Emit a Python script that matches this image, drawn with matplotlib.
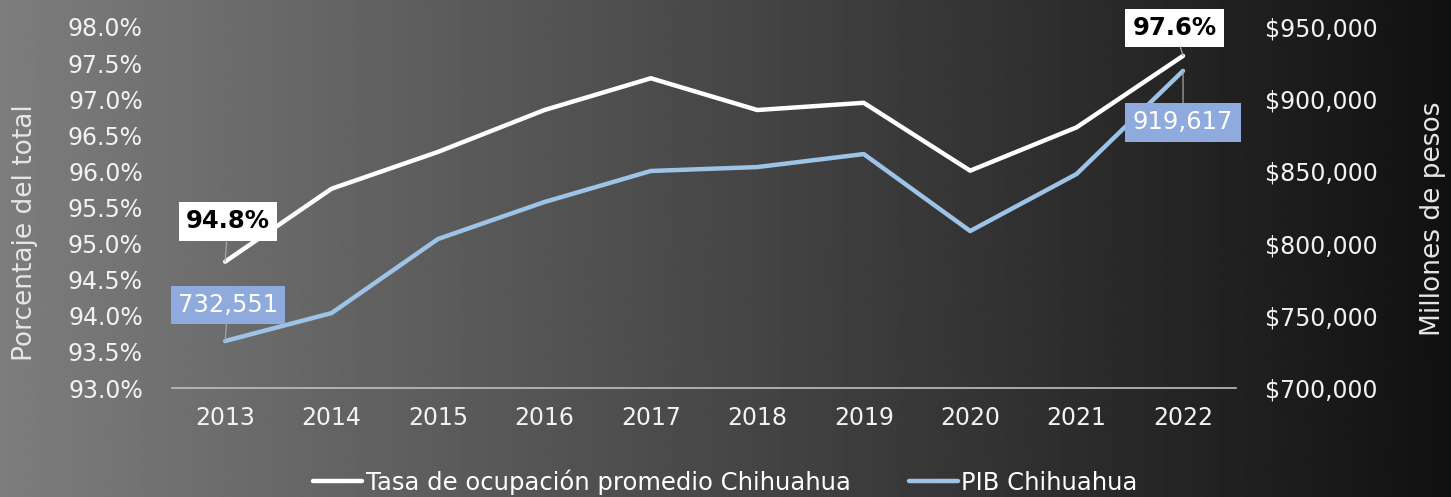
import numpy as np
import matplotlib.pyplot as plt
from matplotlib.ticker import FuncFormatter

years = ['2013', '2014', '2015', '2016', '2017', '2018', '2019', '2020', '2021', '2022']
tasa = [94.75, 95.76, 96.27, 96.85, 97.29, 96.85, 96.95, 96.01, 96.61, 97.60]
pib = [732551, 751900, 803200, 828800, 850300, 853000, 862000, 808700, 848200, 919617]
tasa_label = '94.8%'
tasa_label_end = '97.6%'

plt.rcParams['font.family'] = ['DejaVu Sans']

fig = plt.figure(figsize=(14.51, 4.97), dpi=100)

# fondo degradado gris -> negro
bg = fig.add_axes([0, 0, 1, 1], zorder=-10)
grad = np.linspace(0.49, 0.065, 512).reshape(1, -1)
bg.imshow(grad, aspect='auto', cmap='gray', vmin=0, vmax=1, extent=[0, 1, 0, 1])
bg.set_axis_off()

ax = fig.add_axes([0.1185, 0.2193, 0.7335, 0.7264])
ax.patch.set_visible(False)
ax2 = ax.twinx()

x = np.arange(len(years))
white = '#ffffff'
blue = '#9dc3e6'
l1, = ax.plot(x, tasa, color=white, lw=3.2, solid_capstyle='round', zorder=3)
l2, = ax2.plot(x, pib, color=blue, lw=3.2, solid_capstyle='round', zorder=3)

ax.set_xlim(-0.5, len(years) - 0.5)
ax.set_ylim(93.0, 98.0)
ax.set_yticks(np.arange(93.0, 98.01, 0.5))
ax.yaxis.set_major_formatter(FuncFormatter(lambda v, p: f'{v:.1f}%'))
ax2.set_ylim(700000, 950000)
ax2.set_yticks(np.arange(700000, 950001, 50000))
ax2.yaxis.set_major_formatter(FuncFormatter(lambda v, p: f'${v:,.0f}'))

ax.set_xticks(x)
ax.set_xticklabels(years)

for a in (ax, ax2):
    for s in a.spines.values():
        s.set_visible(False)
    a.tick_params(length=0, colors='#f2f2f2', labelsize=17)
ax.spines['bottom'].set_visible(True)
ax.spines['bottom'].set_color('#bfbfbf')
ax.spines['bottom'].set_linewidth(1.2)
ax.tick_params(axis='y', pad=21)
ax.tick_params(axis='x', pad=13)
ax2.tick_params(axis='y', pad=21)

ax.set_ylabel('Porcentaje del total', color='#e6e6e6', fontsize=19, labelpad=21)
ax2.set_ylabel('Millones de pesos', color='#e6e6e6', fontsize=19, labelpad=30)
ax.yaxis.label.set_y(0.43)
ax2.yaxis.label.set_y(0.47)

# etiquetas de datos
lead = dict(arrowstyle='-', color='#a6a6a6', lw=0.9, shrinkA=0, shrinkB=0)
ax.annotate(tasa_label, (x[0], tasa[0]), xytext=(2, 29), textcoords='offset points',
            ha='center', va='center', fontsize=17.5, fontweight='bold', color='black',
            bbox=dict(boxstyle='square,pad=0.3', fc='white', ec='none'), arrowprops=lead, zorder=5)
ax.annotate(tasa_label_end, (x[-1], tasa[-1]), xytext=(-6, 20), textcoords='offset points',
            ha='center', va='center', fontsize=17.5, fontweight='bold', color='black',
            bbox=dict(boxstyle='square,pad=0.3', fc='white', ec='none'), arrowprops=lead, zorder=5)
ax2.annotate(f'{pib[0]:,}', (x[0], pib[0]), xytext=(2, 26), textcoords='offset points',
             ha='center', va='center', fontsize=17.5, color='white',
             bbox=dict(boxstyle='square,pad=0.3', fc='#8faadc', ec='none'), arrowprops=lead, zorder=5)
ax2.annotate(f'{pib[-1]:,}', (x[-1], pib[-1]), xytext=(0, -37), textcoords='offset points',
             ha='center', va='center', fontsize=17.5, color='white',
             bbox=dict(boxstyle='square,pad=0.3', fc='#8faadc', ec='none'), arrowprops=lead, zorder=5)

leg = fig.legend([l1, l2], ['Tasa de ocupación promedio Chihuahua', 'PIB Chihuahua'],
                 loc='center', bbox_to_anchor=(0.5, 0.03), ncol=2, frameon=False,
                 fontsize=17.5, handlelength=2.0, handletextpad=0.15, columnspacing=2.4)
for t in leg.get_texts():
    t.set_color('white')

fig.savefig('out.png', dpi=100)
